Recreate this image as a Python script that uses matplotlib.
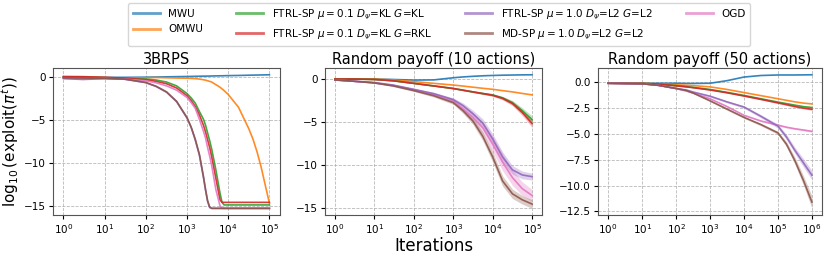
import numpy as np
import matplotlib
matplotlib.use("Agg")
import matplotlib.pyplot as plt
from matplotlib.lines import Line2D
from matplotlib.ticker import NullLocator, LogLocator

labels = ["MWU", "OMWU",
          r"FTRL-SP $\mu=0.1$ $D_\psi$=KL $G$=KL",
          r"FTRL-SP $\mu=0.1$ $D_\psi$=KL $G$=RKL",
          r"FTRL-SP $\mu=1.0$ $D_\psi$=L2 $G$=L2",
          r"MD-SP $\mu=1.0$ $D_\psi$=L2 $G$=L2",
          "OGD"]
colors = ["C0", "C1", "C2", "C3", "C4", "C5", "C6"]
titles = ["3BRPS", "Random payoff (10 actions)", "Random payoff (50 actions)"]

# --- 3BRPS ---
brps_iters = [1, 3, 10, 30, 100, 180, 320, 560, 1000, 1260, 1580, 2000, 2510, 2820,
              3160, 3550, 3980, 5010, 6310, 7080, 7940, 10000, 17800, 31600, 39800,
              50100, 63100, 79400, 100000]
brps_mwu = [0.0, 0.0, 0.0, 0.0, 0.02, 0.04, 0.06, 0.08, 0.1, 0.11, 0.12, 0.13, 0.14, 0.14,
            0.15, 0.15, 0.16, 0.17, 0.18, 0.18, 0.19, 0.2, 0.22, 0.25, 0.26, 0.27, 0.28, 0.29, 0.3]
brps_omwu = [0.05, 0.02, -0.02, -0.08, -0.05, -0.02, -0.05, -0.08, -0.1, -0.12, -0.15, -0.2,
             -0.28, -0.33, -0.4, -0.47, -0.55, -0.85, -1.15, -1.35, -1.55, -2.0, -3.5, -6.0,
             -7.2, -8.7, -10.5, -12.6, -14.7]
brps_ftrl_kl = [0.05, 0.02, -0.05, -0.1, -0.2, -0.32, -0.55, -1.0, -1.9, -2.4, -3.0, -4.0,
                -4.9, -5.6, -6.5, -7.4, -8.4, -10.8, -13.5, -14.6, -14.9, -14.9, -14.9,
                -14.9, -14.9, -14.9, -14.9, -14.9, -14.9]
brps_ftrl_rkl = [0.1, 0.08, 0.0, -0.1, -0.27, -0.48, -0.75, -1.25, -2.15, -2.7, -3.4, -4.4,
                 -5.6, -6.4, -7.3, -8.2, -9.3, -11.8, -14.3, -14.6, -14.6, -14.6, -14.6,
                 -14.6, -14.6, -14.6, -14.6, -14.6, -14.6]
brps_ftrl_l2 = [-0.15, -0.25, -0.15, -0.22, -0.62, -1.08, -1.75, -2.85, -4.75, -5.85, -7.3,
                -9.1, -11.7, -13.2, -14.5, -15.2, -15.3, -15.3, -15.3, -15.3, -15.3, -15.3,
                -15.3, -15.3, -15.3, -15.3, -15.3, -15.3, -15.3]
brps_md = [-0.05, -0.08, -0.12, -0.2, -0.6, -1.05, -1.7, -2.8, -4.7, -5.8, -7.2, -9.0,
           -11.6, -13.1, -14.4, -15.15, -15.3, -15.3, -15.3, -15.3, -15.3, -15.3, -15.3,
           -15.3, -15.3, -15.3, -15.3, -15.3, -15.3]
brps_ogd = [-0.1, -0.15, -0.12, -0.2, -0.4, -0.65, -1.0, -1.5, -2.35, -2.95, -3.6, -4.9,
            -6.3, -7.1, -8.2, -9.2, -10.3, -13.1, -15.0, -15.3, -15.3, -15.3, -15.3,
            -15.3, -15.3, -15.3, -15.3, -15.3, -15.3]

# --- Random payoff, 10 actions ---
r10_iters = [1, 3, 10, 30, 100, 320, 1000, 1780, 3160, 5620, 10000, 17800, 31600, 56200, 100000]
r10_mwu = [0.0, 0.0, 0.0, -0.05, -0.12, -0.1, 0.15, 0.25, 0.32, 0.38, 0.42, 0.45, 0.47, 0.49, 0.5]
r10_omwu = [0.0, 0.0, 0.0, -0.1, -0.3, -0.5, -0.7, -0.82, -0.95, -1.08, -1.2, -1.35, -1.5, -1.68, -1.85]
r10_ftrl_kl = [0.0, 0.0, -0.05, -0.2, -0.5, -0.8, -1.1, -1.3, -1.5, -1.68, -1.85, -2.2, -2.75, -3.7, -4.75]
r10_ftrl_rkl = [0.0, 0.0, -0.05, -0.2, -0.5, -0.8, -1.1, -1.3, -1.5, -1.7, -1.9, -2.25, -2.85, -3.9, -5.2]
r10_ftrl_l2 = [-0.1, -0.25, -0.4, -0.7, -1.2, -1.7, -2.4, -3.1, -4.05, -5.15, -7.0, -9.1, -10.6, -11.2, -11.4]
r10_md = [-0.1, -0.25, -0.45, -0.8, -1.35, -1.95, -2.75, -3.7, -4.9, -6.7, -9.1, -11.9, -13.4, -14.1, -14.6]
r10_ogd = [-0.1, -0.25, -0.45, -0.75, -1.25, -1.8, -2.55, -3.5, -4.5, -5.7, -7.6, -9.7, -11.5, -12.8, -13.6]
r10_sd_kl = [0.02, 0.02, 0.02, 0.03, 0.04, 0.05, 0.06, 0.07, 0.08, 0.1, 0.12, 0.18, 0.25, 0.35, 0.45]
r10_sd_l2 = [0.05, 0.05, 0.05, 0.08, 0.1, 0.15, 0.2, 0.3, 0.4, 0.5, 0.6, 0.6, 0.5, 0.45, 0.4]
r10_sd_md = [0.05, 0.05, 0.05, 0.08, 0.1, 0.15, 0.2, 0.3, 0.4, 0.5, 0.6, 0.6, 0.55, 0.5, 0.5]
r10_sd_ogd = [0.05, 0.05, 0.05, 0.08, 0.1, 0.15, 0.25, 0.4, 0.55, 0.7, 0.9, 1.0, 0.9, 0.8, 0.7]

# --- Random payoff, 50 actions ---
r50_iters = [1, 10, 30, 100, 200, 320, 1000, 3160, 10000, 31600, 100000, 178000, 316000, 562000, 1000000]
r50_mwu = [-0.1, -0.1, -0.1, -0.1, -0.12, -0.12, -0.1, 0.15, 0.5, 0.65, 0.7, 0.7, 0.7, 0.71, 0.72]
r50_omwu = [-0.1, -0.12, -0.15, -0.25, -0.3, -0.33, -0.45, -0.7, -1.0, -1.3, -1.6, -1.75, -1.9, -2.02, -2.1]
r50_ftrl_kl = [-0.1, -0.12, -0.18, -0.33, -0.42, -0.5, -0.7, -0.98, -1.28, -1.6, -1.92, -2.07, -2.22, -2.36, -2.45]
r50_ftrl_rkl = [-0.1, -0.12, -0.18, -0.35, -0.45, -0.53, -0.75, -1.02, -1.33, -1.66, -2.0, -2.17, -2.35, -2.5, -2.62]
r50_ftrl_l2 = [-0.1, -0.15, -0.3, -0.6, -0.75, -0.95, -1.35, -1.9, -2.4, -3.3, -4.25, -5.3, -6.6, -7.8, -9.0]
r50_md = [-0.1, -0.15, -0.3, -0.6, -0.8, -1.05, -1.8, -2.6, -3.4, -4.1, -4.9, -6.0, -7.6, -9.5, -11.6]
r50_ogd = [-0.1, -0.15, -0.3, -0.62, -0.85, -1.05, -1.6, -2.35, -3.2, -3.75, -4.15, -4.35, -4.5, -4.62, -4.75]
r50_sd_kl = [0.01, 0.01, 0.01, 0.02, 0.02, 0.02, 0.03, 0.04, 0.05, 0.05, 0.06, 0.07, 0.08, 0.08, 0.1]
r50_sd_l2 = [0.02, 0.02, 0.03, 0.05, 0.05, 0.06, 0.08, 0.1, 0.12, 0.15, 0.2, 0.25, 0.3, 0.4, 0.45]
r50_sd_md = [0.02, 0.02, 0.03, 0.05, 0.05, 0.06, 0.08, 0.1, 0.1, 0.12, 0.15, 0.25, 0.35, 0.45, 0.6]
r50_sd_ogd = [0.02, 0.02, 0.03, 0.04, 0.04, 0.05, 0.05, 0.06, 0.06, 0.07, 0.08, 0.08, 0.08, 0.09, 0.1]

panels = [
    (brps_iters, [brps_mwu, brps_omwu, brps_ftrl_kl, brps_ftrl_rkl, brps_ftrl_l2, brps_md, brps_ogd],
     [None] * 7),
    (r10_iters, [r10_mwu, r10_omwu, r10_ftrl_kl, r10_ftrl_rkl, r10_ftrl_l2, r10_md, r10_ogd],
     [None, None, r10_sd_kl, r10_sd_kl, r10_sd_l2, r10_sd_md, r10_sd_ogd]),
    (r50_iters, [r50_mwu, r50_omwu, r50_ftrl_kl, r50_ftrl_rkl, r50_ftrl_l2, r50_md, r50_ogd],
     [None, None, r50_sd_kl, r50_sd_kl, r50_sd_l2, r50_sd_md, r50_sd_ogd]),
]

fig = plt.figure(figsize=(8.3, 2.56), dpi=100)
boxes = [[0.064, 0.160, 0.273, 0.574],
         [0.3916, 0.160, 0.2614, 0.574],
         [0.7205, 0.160, 0.270, 0.574]]
# draw order: purple before brown so brown sits on top
order = [0, 1, 2, 3, 6, 4, 5]

axes = []
for k, (iters, series, spreads) in enumerate(panels):
    ax = fig.add_axes(boxes[k])
    x = np.array(iters, dtype=float)
    for i in order:
        y = np.array(series[i])
        if spreads[i] is not None:
            s = np.array(spreads[i])
            ax.fill_between(x, y - s, y + s, color=colors[i], alpha=0.3, lw=0)
        ax.plot(x, y, color=colors[i], lw=1.2, alpha=0.9)
    ax.set_xscale("log")
    ax.xaxis.set_major_locator(LogLocator(base=10, numticks=10))
    ax.xaxis.set_minor_locator(NullLocator())
    ax.grid(True, ls="--", color="#a8a8a8", lw=0.6, alpha=0.8)
    ax.set_title(titles[k], fontsize=10.5, pad=3)
    ax.tick_params(labelsize=7.5, length=3, pad=2)
    for sp in ax.spines.values():
        sp.set_color("#555555")
    axes.append(ax)

axes[0].set_yticks([0, -5, -10, -15])
axes[1].set_yticks([0, -5, -10, -15])
axes[2].set_yticks([0, -2.5, -5, -7.5, -10, -12.5])
axes[0].set_ylabel(r"$\log_{10}(\mathrm{exploit}(\pi^t))$", fontsize=11, labelpad=2)
axes[1].set_xlabel("Iterations", fontsize=12, labelpad=1)

handles = [Line2D([], [], color=c, lw=2, alpha=0.7) for c in colors]
fig.legend(handles, labels, loc="upper center", bbox_to_anchor=(0.529, 0.995), ncol=4,
           fontsize=7.5, frameon=True, handlelength=2.6, columnspacing=3.2,
           borderaxespad=0.2)

fig.savefig("out.png", dpi=100)
